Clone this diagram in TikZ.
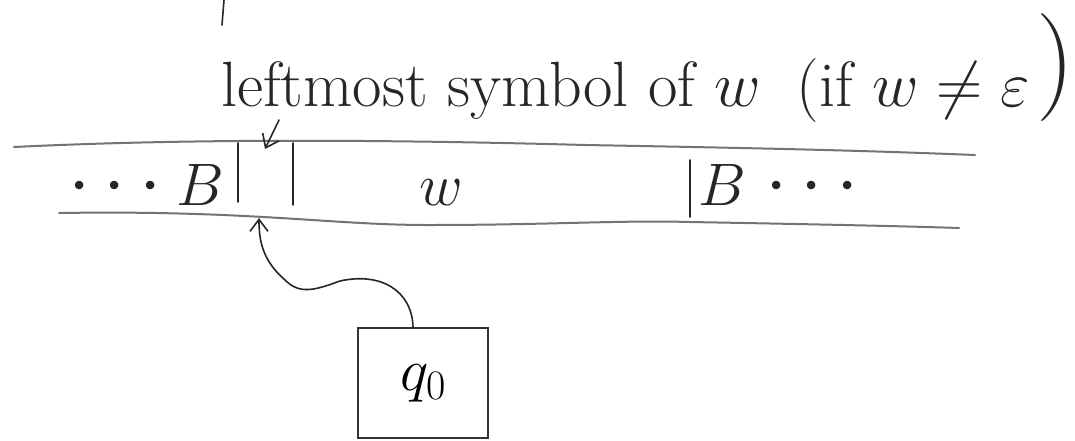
\RequirePackage{fix-cm}
\documentclass[tikz,border=0pt]{standalone}
\usetikzlibrary{arrows.meta}
\begin{document}
\begin{tikzpicture}[x=1pt,y=-1pt,
  ink/.style={draw=black!85, line width=1.6pt, line cap=round, line join=round},
  tape/.style={draw=black!55, line width=2pt, line cap=round},
  hand/.style={font=\fontsize{60}{66}\selectfont, text=black!85, inner sep=0pt},
  arr/.style={ink, -{Straight Barb[length=12pt,width=18pt]}},
  statebox/.style={draw=black!80, line width=1.8pt, minimum width=130pt, minimum height=110pt, inner sep=0pt, font=\fontsize{60}{64}\selectfont}
]
\useasboundingbox (0,0) rectangle (1075,440);
\fill[white] (0,0) rectangle (1075,440);

% stray mark at top
\draw[ink] (224,0) -- (222,25);

% label
\node[hand, font=\fontsize{64}{70}\selectfont, anchor=base west] (lbl) at (221,106) {leftmost symbol of $w$\hspace{36pt}(if $w\neq\varepsilon$};
\node[hand, font=\fontsize{108}{108}\selectfont, anchor=center] (rp) at (1056,68) {)};

% tape lines
\draw[tape] (14,147) .. controls (200,138) and (400,140) .. (586,145) .. controls (750,148) and (850,150) .. (975,155);
\draw[tape] (59,213) .. controls (250,210) and (330,225) .. (428,225) .. controls (550,225) and (620,220) .. (690,222) .. controls (800,224) and (900,226) .. (959,228);

% cell separators
\draw[ink] (238,143) -- (238,202);
\draw[ink] (293,143) -- (293,205);
\draw[ink] (690,160) -- (690,217);

% tape contents
\node[hand, font=\fontsize{80}{80}\selectfont] (dl) at (115,188) {$\cdots$};
\node[hand, anchor=base] (bl) at (200,205) {$B$};
\node[hand, anchor=base] (w) at (441,205) {$w$};
\node[hand, anchor=base] (br) at (722,205) {$B$};
\node[hand, font=\fontsize{80}{80}\selectfont] (dr) at (812,188) {$\cdots$};

% pointer from label to leftmost cell
\coordinate (lblfoot) at (279,120);
\coordinate (cell) at (265,149);
\draw[arr] (lblfoot) -- (cell);

% state box and head
\node[statebox] (q) at (423,383) {$q_0$};
\coordinate (head) at (259,218);
\draw[arr] ([xshift=-10pt]q.north) .. controls (412,290) and (380,272) .. (340,281) .. controls (315,290) and (300,295) .. (285,280) .. controls (262,260) and (259,240) .. (head);
\end{tikzpicture}
\end{document}
